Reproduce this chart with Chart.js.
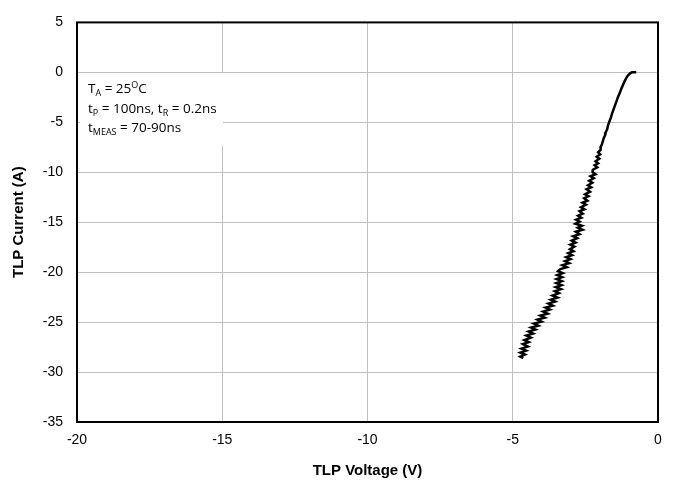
<!DOCTYPE html>
<html>
<head>
<meta charset="utf-8">
<script src="https://cdn.jsdelivr.net/npm/chart.js@4/dist/chart.umd.min.js"></script>
<style>
  html, body { margin: 0; padding: 0; background: #fff; }
  #wrap { width: 673px; height: 484px; }
</style>
</head>
<body>
<div id="wrap"><canvas id="tlpChart"></canvas></div>
<script>
// TLP curve (volts / amps)
var voltage = [
  -0.75, -0.82, -0.90, -0.96, -1.03, -1.10, -1.16, -1.21, -1.27, -1.32,
  -1.38, -1.43, -1.48, -1.53, -1.58, -1.62, -1.67, -1.72, -1.75, -1.80,
  -1.82, -1.87, -1.90, -1.93, -1.98, -1.97, -2.06, -1.99, -2.11, -2.02,
  -2.15, -2.06, -2.18, -2.09, -2.24, -2.25, -2.15, -2.32, -2.21, -2.37,
  -2.26, -2.41, -2.30, -2.46, -2.34, -2.51, -2.39, -2.54, -2.43, -2.60,
  -2.48, -2.65, -2.53, -2.70, -2.59, -2.75, -2.64, -2.82, -2.70, -2.84,
  -2.62, -2.76, -2.60, -2.83, -2.70, -2.92, -2.78, -2.97, -2.84, -3.02,
  -2.88, -3.03, -2.91, -3.09, -2.96, -3.16, -3.01, -3.20, -3.06, -3.29,
  -3.14, -3.36, -3.44, -3.28, -3.47, -3.30, -3.49, -3.31, -3.50, -3.32,
  -3.52, -3.34, -3.55, -3.41, -3.63, -3.46, -3.69, -3.54, -3.77, -3.62,
  -3.87, -3.72, -3.95, -3.80, -4.05, -3.90, -4.15, -4.01, -4.27, -4.12,
  -4.37, -4.22, -4.45, -4.30, -4.53, -4.38, -4.60, -4.45, -4.65, -4.48,
  -4.70, -4.54, -4.74, -4.58, -4.74, -4.64
];
var current = [
  0.00, 0.00, 0.00, -0.10, -0.30, -0.60, -0.95, -1.30, -1.70, -2.10,
  -2.50, -2.90, -3.30, -3.70, -4.10, -4.50, -4.90, -5.30, -5.70, -6.00,
  -6.30, -6.60, -6.90, -7.20, -7.50, -7.75, -8.00, -8.20, -8.45, -8.65,
  -8.90, -9.10, -9.30, -9.50, -9.75, -10.00, -10.20, -10.40, -10.60, -10.85,
  -11.05, -11.30, -11.50, -11.70, -11.95, -12.20, -12.40, -12.60, -12.85, -13.05,
  -13.25, -13.50, -13.70, -13.90, -14.15, -14.35, -14.55, -14.75, -14.95, -15.15,
  -15.35, -15.55, -15.75, -15.95, -16.20, -16.40, -16.60, -16.85, -17.05, -17.25,
  -17.45, -17.70, -17.90, -18.10, -18.30, -18.50, -18.70, -18.90, -19.10, -19.30,
  -19.50, -19.70, -19.90, -20.10, -20.30, -20.50, -20.70, -20.90, -21.10, -21.30,
  -21.50, -21.70, -21.90, -22.10, -22.35, -22.55, -22.75, -22.95, -23.15, -23.35,
  -23.55, -23.75, -23.95, -24.15, -24.35, -24.55, -24.75, -24.95, -25.15, -25.35,
  -25.55, -25.75, -25.95, -26.15, -26.35, -26.55, -26.80, -27.00, -27.20, -27.45,
  -27.65, -27.85, -28.05, -28.25, -28.45, -28.60
];
var xTicks = [-20, -15, -10, -5, 0];
var yTicks = [5, 0, -5, -10, -15, -20, -25, -30, -35];

var points = voltage.map(function (v, i) { return { x: v, y: current[i] }; });

// conditions box, white fill over the grid, with sub/superscripts
var notePlugin = {
  id: 'notes',
  beforeDatasetsDraw: function (chart) {
    var ctx = chart.ctx;
    ctx.save();
    ctx.fillStyle = '#fff';
    ctx.fillRect(80, 73, 143, 73);
    ctx.fillStyle = '#000';
    ctx.textBaseline = 'alphabetic';
    var big = '13.5px "Open Sans"', small = '9px "Open Sans"';
    function run(parts, x, y) {
      parts.forEach(function (p) {
        ctx.font = p[1] ? small : big;
        var dy = p[1] === 'sub' ? 3 : (p[1] === 'sup' ? -5 : 0);
        ctx.fillText(p[0], x, y + dy);
        x += ctx.measureText(p[0]).width;
      });
    }
    run([['T'], ['A', 'sub'], [' = 25'], ['O', 'sup'], ['C']], 88, 93);
    run([['t'], ['P', 'sub'], [' = 100ns, t'], ['R', 'sub'], [' = 0.2ns']], 88, 113);
    run([['t'], ['MEAS', 'sub'], [' = 70-90ns']], 88, 132);
    ctx.restore();
  },
  afterDraw: function (chart) {
    var a = chart.chartArea, ctx = chart.ctx;
    ctx.save();
    ctx.strokeStyle = '#000';
    ctx.lineWidth = 2;
    ctx.strokeRect(a.left, a.top, a.right - a.left, a.bottom - a.top);
    ctx.restore();
  }
};

new Chart(document.getElementById('tlpChart'), {
  type: 'scatter',
  data: {
    datasets: [{
      data: points,
      showLine: true,
      borderColor: '#000',
      borderWidth: 2.5,
      pointRadius: 0,
      tension: 0
    }]
  },
  options: {
    responsive: true,
    maintainAspectRatio: false,
    animation: false,
    layout: { padding: { left: 0, right: 15, top: 14, bottom: 0 } },
    plugins: { legend: { display: false }, tooltip: { enabled: false } },
    scales: {
      x: {
        type: 'linear',
        min: -20, max: 0,
        afterBuildTicks: function (s) { s.ticks = xTicks.map(function (v) { return { value: v }; }); },
        afterFit: function (s) { s.height = 62; },
        grid: { color: '#bfbfbf', lineWidth: 1, drawTicks: false },
        border: { display: false },
        ticks: { color: '#000', padding: 10, font: { family: 'Liberation Sans', size: 14 } },
        title: { display: true, text: 'TLP Voltage (V)', color: '#000', padding: { top: 12 },
                 font: { family: 'Liberation Sans', size: 15, weight: 'bold' } }
      },
      y: {
        type: 'linear',
        min: -35, max: 5,
        afterBuildTicks: function (s) { s.ticks = yTicks.map(function (v) { return { value: v }; }); },
        afterFit: function (s) { s.width = 77; },
        grid: { color: '#bfbfbf', lineWidth: 1, drawTicks: false },
        border: { display: false },
        ticks: { color: '#000', padding: 14, font: { family: 'Liberation Sans', size: 14 } },
        title: { display: true, text: 'TLP Current (A)', color: '#000', padding: { top: 10, bottom: 4 },
                 font: { family: 'Liberation Sans', size: 15, weight: 'bold' } }
      }
    }
  },
  plugins: [notePlugin]
});
</script>
</body>
</html>
